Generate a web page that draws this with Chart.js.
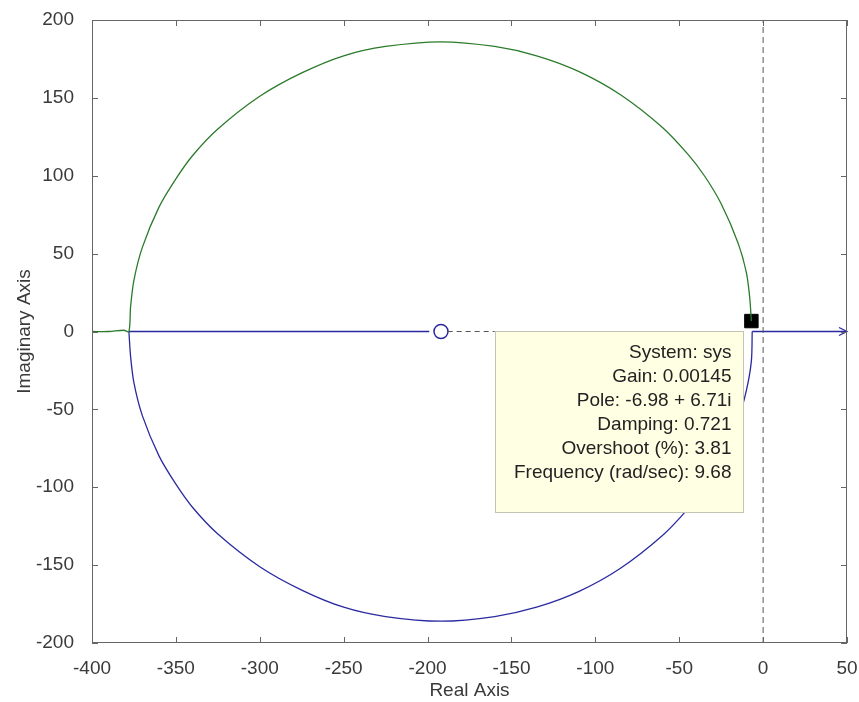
<!DOCTYPE html>
<html>
<head>
<meta charset="utf-8">
<script src="https://cdn.jsdelivr.net/npm/chart.js@4.4.0/dist/chart.umd.min.js"></script>
<style>
  body { margin: 0; background: #fff; }
  #wrap { width: 859px; height: 702px; position: relative; }
</style>
</head>
<body>
<div id="wrap"><canvas id="myChart"></canvas></div>
<script>
// upper branch (green): tail from the left, then the arc up to the selected pole
const greenX = [-400, -390, -381, -378, -377, -375, -370, -360, -350, -340, -325, -300, -275, -250, -225, -192, -160, -135, -110, -85, -60, -45, -35, -25, -15, -10, -8, -7];
const greenY = [0, 0, 0.8, 0, 16, 33, 54, 80, 98, 113, 130, 151, 166, 177, 183, 186, 183, 177, 167, 152, 131, 114, 100, 82, 57, 38, 22, 6.7];

// lower branch (blue)
const blueX = [-378, -377, -375, -370, -360, -350, -340, -325, -300, -275, -250, -225, -192, -160, -135, -110, -85, -60, -45, -35, -25, -15, -10, -7, -6.5];
const blueY = [0, -16, -33, -54, -80, -98, -113, -130, -151, -166, -177, -183, -186, -183, -177, -167, -152, -131, -114, -100, -82, -57, -38, -19, 0];

// real-axis pieces
const axisLeftX = [-378, -199];
const axisRightX = [-6.5, 50];
const dashX = [-188, -160];

const zeroX = [-192];
const poleX = [-6.98];
const poleY = [6.71];

const xTicks = [-400, -350, -300, -250, -200, -150, -100, -50, 0, 50];
const yTicks = [-200, -150, -100, -50, 0, 50, 100, 150, 200];

const tipLines = [
    'System: sys',
    'Gain: 0.00145',
    'Pole: -6.98 + 6.71i',
    'Damping: 0.721',
    'Overshoot (%): 3.81',
    'Frequency (rad/sec): 9.68'
];

const pts = (xs, ys) => xs.map((v, i) => ({x: v, y: ys[i]}));
const onAxis = (xs) => xs.map(v => ({x: v, y: 0}));

const blue = '#2a2aa0';
const green = '#2a7a2a';
const grey = '#555';
const txt = '#3a3a3a';
const fontFam = '"Liberation Sans", Arial, sans-serif';

const frame = {
    id: 'frame',
    afterDatasetsDraw(chart) {
        const {ctx, chartArea: a, scales: {x, y}} = chart;
        ctx.save();

        // arrow head on the right end of the real-axis locus
        const ax = x.getPixelForValue(50), ay = y.getPixelForValue(0);
        ctx.strokeStyle = blue;
        ctx.lineWidth = 1.3;
        ctx.beginPath();
        ctx.moveTo(ax - 8, ay - 4);
        ctx.lineTo(ax, ay);
        ctx.lineTo(ax - 8, ay + 4);
        ctx.stroke();

        // data tip box
        const l = Math.round(x.getPixelForValue(-159.8)) + 0.5;
        const r = Math.round(x.getPixelForValue(-12)) + 0.5;
        const t = Math.round(y.getPixelForValue(0.3)) + 0.5;
        const b = Math.round(y.getPixelForValue(-115.8)) + 0.5;
        ctx.fillStyle = '#ffffe4';
        ctx.fillRect(l, t, r - l, b - t);
        ctx.strokeStyle = '#c4c4b4';
        ctx.lineWidth = 1;
        ctx.strokeRect(l, t, r - l, b - t);
        ctx.fillStyle = '#222';
        ctx.font = '19px ' + fontFam;
        ctx.textAlign = 'right';
        ctx.textBaseline = 'middle';
        tipLines.forEach((s, i) => ctx.fillText(s, r - 12, t + 21 + i * 24));

        // box round the plot and inward ticks on all sides
        ctx.strokeStyle = '#666';
        ctx.lineWidth = 1;
        ctx.strokeRect(a.left + 0.5, a.top + 0.5, a.right - a.left - 1, a.bottom - a.top - 1);
        ctx.beginPath();
        xTicks.forEach(v => {
            const px = Math.round(x.getPixelForValue(v)) + 0.5;
            ctx.moveTo(px, a.bottom); ctx.lineTo(px, a.bottom - 6);
            ctx.moveTo(px, a.top); ctx.lineTo(px, a.top + 6);
        });
        yTicks.forEach(v => {
            const py = Math.round(y.getPixelForValue(v)) + 0.5;
            ctx.moveTo(a.left, py); ctx.lineTo(a.left + 6, py);
            ctx.moveTo(a.right, py); ctx.lineTo(a.right - 6, py);
        });
        ctx.stroke();
        ctx.restore();
    }
};

const line = (data, color, extra) => Object.assign({
    data: data,
    showLine: true,
    borderColor: color,
    borderWidth: 1.3,
    pointRadius: 0,
    fill: false
}, extra || {});

new Chart(document.getElementById('myChart').getContext('2d'), {
    type: 'scatter',
    data: {
        datasets: [
            line([{x: 0, y: -200}, {x: 0, y: 200}], grey, {borderWidth: 1, borderDash: [6, 4]}),
            line(pts(greenX, greenY), green, {tension: 0.3}),
            line(pts(blueX, blueY), blue, {tension: 0.3}),
            line(onAxis(axisLeftX), blue),
            line(onAxis(axisRightX), blue),
            line(onAxis(dashX), grey, {borderWidth: 1, borderDash: [5, 4]}),
            {
                data: onAxis(zeroX),
                pointStyle: 'circle',
                pointRadius: 7,
                borderColor: blue,
                borderWidth: 1.5,
                backgroundColor: 'rgba(0,0,0,0)'
            },
            {
                data: pts(poleX, poleY),
                pointStyle: 'rect',
                pointRadius: 9.5,
                borderColor: '#000',
                borderWidth: 1,
                backgroundColor: '#000'
            }
        ]
    },
    options: {
        responsive: true,
        maintainAspectRatio: false,
        animation: false,
        layout: {
            padding: {top: 20, right: 12, left: 0, bottom: 0}
        },
        scales: {
            x: {
                type: 'linear',
                min: -400,
                max: 50,
                afterBuildTicks: (s) => { s.ticks = xTicks.map(v => ({value: v})); },
                afterFit: (s) => { s.height = 59; s.paddingLeft = 0; s.paddingRight = 0; },
                grid: {display: false},
                border: {display: false},
                ticks: {
                    color: txt,
                    font: {family: fontFam, size: 19},
                    padding: 6,
                    maxRotation: 0
                },
                title: {
                    display: true,
                    text: 'Real Axis',
                    color: txt,
                    font: {family: fontFam, size: 19},
                    padding: {top: 0, bottom: 0}
                }
            },
            y: {
                type: 'linear',
                min: -200,
                max: 200,
                afterBuildTicks: (s) => { s.ticks = yTicks.map(v => ({value: v})); },
                afterFit: (s) => { s.width = 92; s.paddingTop = 0; s.paddingBottom = 0; },
                grid: {display: false},
                border: {display: false},
                ticks: {
                    color: txt,
                    font: {family: fontFam, size: 19},
                    padding: 10
                },
                title: {
                    display: true,
                    text: 'Imaginary Axis',
                    color: txt,
                    font: {family: fontFam, size: 19},
                    padding: {top: 13, bottom: 0}
                }
            }
        },
        plugins: {
            legend: {display: false},
            tooltip: {enabled: false}
        }
    },
    plugins: [frame]
});
</script>
</body>
</html>
